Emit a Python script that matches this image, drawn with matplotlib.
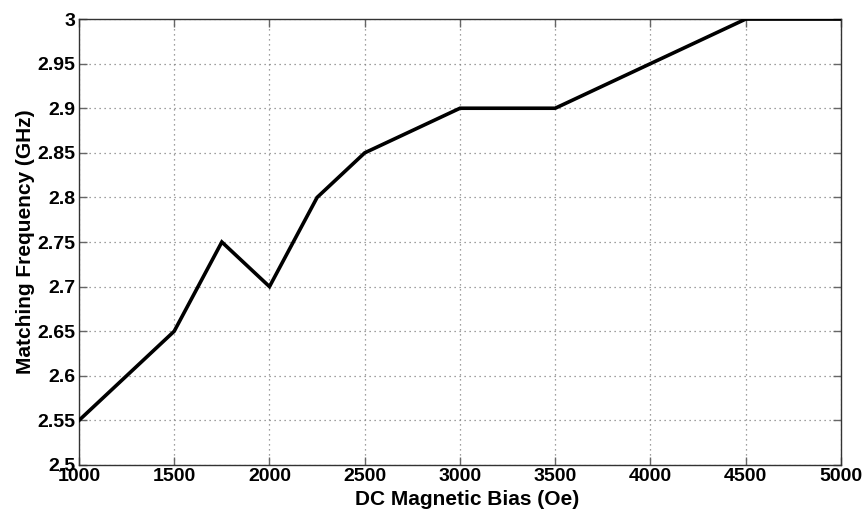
import matplotlib
matplotlib.use('Agg')
import matplotlib.pyplot as plt

## bias sweep and matching frequency
bias = [1000, 1500, 1750, 2000, 2250, 2500, 3000, 3500, 4500, 5000]
freq = [2.55, 2.65, 2.75, 2.70, 2.80, 2.85, 2.90, 2.90, 3.00, 3.00]

xticks = [1000, 1500, 2000, 2500, 3000, 3500, 4000, 4500, 5000]
yticks = [2.5, 2.55, 2.6, 2.65, 2.7, 2.75, 2.8, 2.85, 2.9, 2.95, 3.0]
ytick_labels = ['2.5', '2.55', '2.6', '2.65', '2.7', '2.75', '2.8', '2.85', '2.9', '2.95', '3']

plt.rcParams['font.family'] = ['Liberation Sans', 'DejaVu Sans']
plt.rcParams['font.weight'] = 'bold'

fig = plt.figure(figsize=(8.63, 5.12), dpi=100)
ax = fig.add_axes([0.0915, 0.0918, 0.883, 0.871])

ax.plot(bias, freq, color='k', linewidth=2.6, solid_joinstyle='miter', zorder=3)

ax.set_xlim(1000, 5000)
ax.set_ylim(2.5, 3.0)
ax.set_xticks(xticks)
ax.set_yticks(yticks)
ax.set_yticklabels(ytick_labels)

ax.grid(True, color='#808080', linestyle=(0, (1, 3)), linewidth=0.9)
ax.tick_params(direction='in', length=6, width=1, labelsize=14, pad=2.5, colors='#666666',
               labelcolor='k', top=True, right=True)
for side in ax.spines.values():
    side.set_color('#333333')
    side.set_linewidth(1)

ax.set_xlabel('DC Magnetic Bias (Oe)', fontsize=15, fontweight='bold')
ax.set_ylabel('Matching Frequency (GHz)', fontsize=15, fontweight='bold')
ax.xaxis.set_label_coords(0.51, -0.056)
ax.yaxis.set_label_coords(-0.058, 0.5)

fig.savefig('out.png', dpi=100)
